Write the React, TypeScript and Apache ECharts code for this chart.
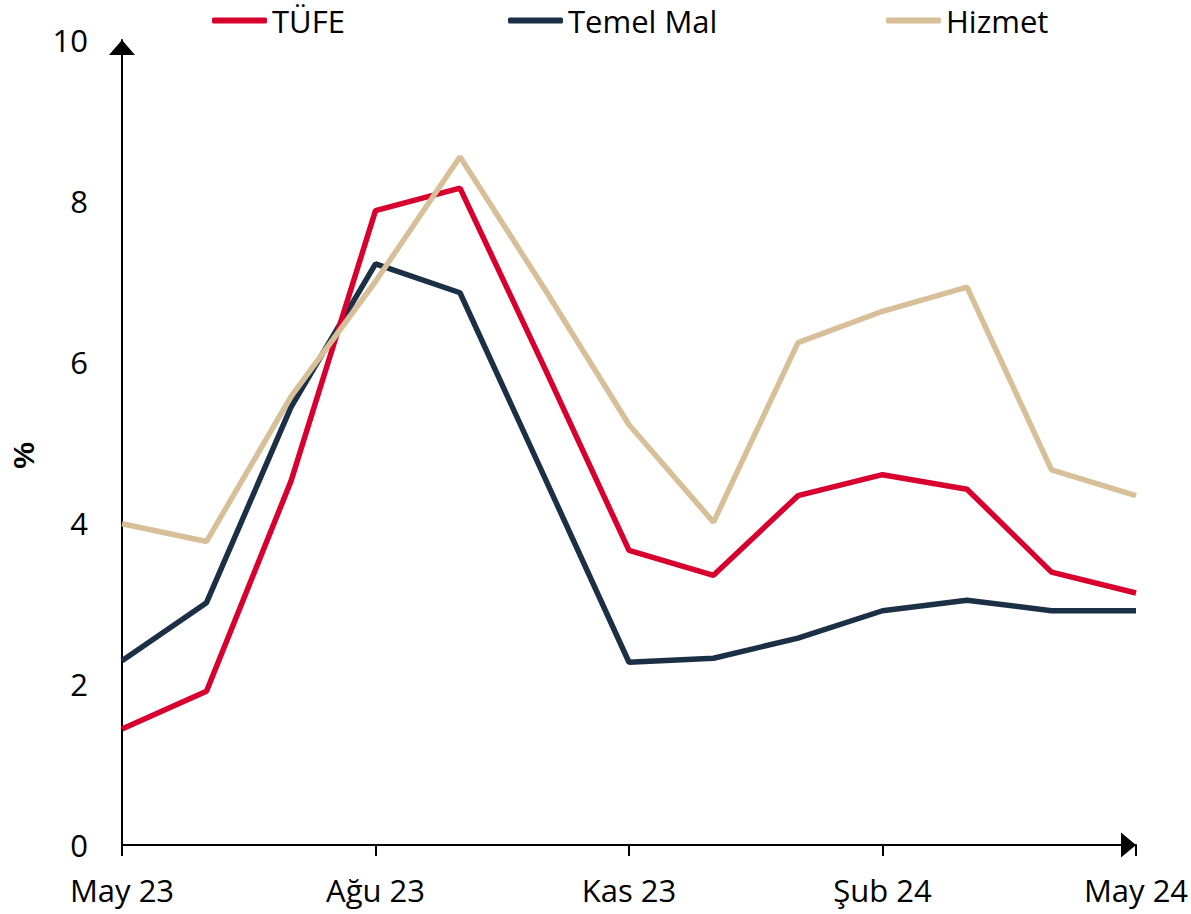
import React, { useEffect, useRef } from "react";
import * as echarts from "echarts";

const categories = [
  "May 23", "Haz 23", "Tem 23", "Ağu 23", "Eyl 23", "Eki 23", "Kas 23",
  "Ara 23", "Oca 24", "Şub 24", "Mar 24", "Nis 24", "May 24",
];
const tufe = [1.44, 1.91, 4.52, 7.88, 8.16, 5.93, 3.66, 3.35, 4.34, 4.6, 4.42, 3.39, 3.13];
const temelMal = [2.29, 3.01, 5.44, 7.22, 6.86, 4.57, 2.27, 2.32, 2.57, 2.91, 3.04, 2.91, 2.91];
const hizmet = [3.99, 3.77, 5.57, 7.0, 8.55, 6.91, 5.22, 4.01, 6.24, 6.63, 6.93, 4.66, 4.34];
const yTicks = [0, 2, 4, 6, 8, 10];

const COLORS = { tufe: "#D7002F", temel: "#1B2F45", hizmet: "#D7BF9A" };
const FONT = "'Open Sans', 'Noto Sans', sans-serif";
const FS = 31;

export default function App() {
  const ref = useRef<HTMLDivElement>(null);
  useEffect(() => {
    if (!ref.current) return;
    const chart = echarts.init(ref.current, undefined, { renderer: "svg" });
    const legendBase = {
      top: 0,
      itemWidth: 55,
      itemHeight: 6,
      itemGap: 5,
      icon: "roundRect",
      textStyle: { fontFamily: FONT, fontSize: FS, color: "#000" },
      selectedMode: false as const,
    };
    chart.setOption({
      animation: false,
      backgroundColor: "#fff",
      legend: [
        { ...legendBase, left: 207, data: ["TÜFE"] },
        { ...legendBase, left: 503, data: ["Temel Mal"] },
        { ...legendBase, left: 881, data: ["Hizmet"] },
      ],
      grid: { left: 122, right: 55, top: 40, bottom: 69, containLabel: false, outerBoundsMode: "none" },
      xAxis: {
        type: "category",
        data: categories,
        boundaryGap: false,
        axisLine: {
          show: true,
          lineStyle: { color: "#000", width: 2 },
          symbol: ["none", "triangle"],
          symbolSize: [25, 15],
          symbolOffset: [0, -7.5],
        },
        axisTick: { show: true, interval: 2, length: 11, lineStyle: { color: "#000", width: 2 } },
        axisLabel: {
          interval: 2,
          margin: 29,
          fontFamily: FONT,
          fontSize: FS,
          color: "#000",
        },
        splitLine: { show: false },
      },
      yAxis: {
        type: "value",
        min: yTicks[0],
        max: yTicks[yTicks.length - 1],
        interval: 2,
        name: "%",
        nameLocation: "middle",
        nameRotate: 90,
        nameGap: 84,
        nameTextStyle: {
          fontFamily: "Arial, 'Liberation Sans', sans-serif",
          fontWeight: "bold",
          fontSize: 30,
          color: "#000",
          padding: [0, 26, 0, 0],
        },
        axisLine: {
          show: true,
          lineStyle: { color: "#000", width: 2 },
          symbol: ["none", "triangle"],
          symbolSize: [26, 15],
          symbolOffset: [0, -7.5],
        },
        axisTick: { show: false },
        axisLabel: { margin: 34, fontFamily: FONT, fontSize: FS, color: "#000" },
        splitLine: { show: false },
      },
      series: [
        { name: "TÜFE", type: "line", data: tufe, symbol: "none", color: COLORS.tufe, lineStyle: { width: 5.5, color: COLORS.tufe }, z: 3 },
        { name: "Temel Mal", type: "line", data: temelMal, symbol: "none", color: COLORS.temel, lineStyle: { width: 5.5, color: COLORS.temel }, z: 2 },
        { name: "Hizmet", type: "line", data: hizmet, symbol: "none", color: COLORS.hizmet, lineStyle: { width: 5.5, color: COLORS.hizmet }, z: 4 },
      ],
    });
    return () => chart.dispose();
  }, []);
  return (
    <div
      ref={ref}
      style={{ position: "fixed", left: 0, top: 0, width: 1191, height: 914, background: "#fff" }}
    />
  );
}
